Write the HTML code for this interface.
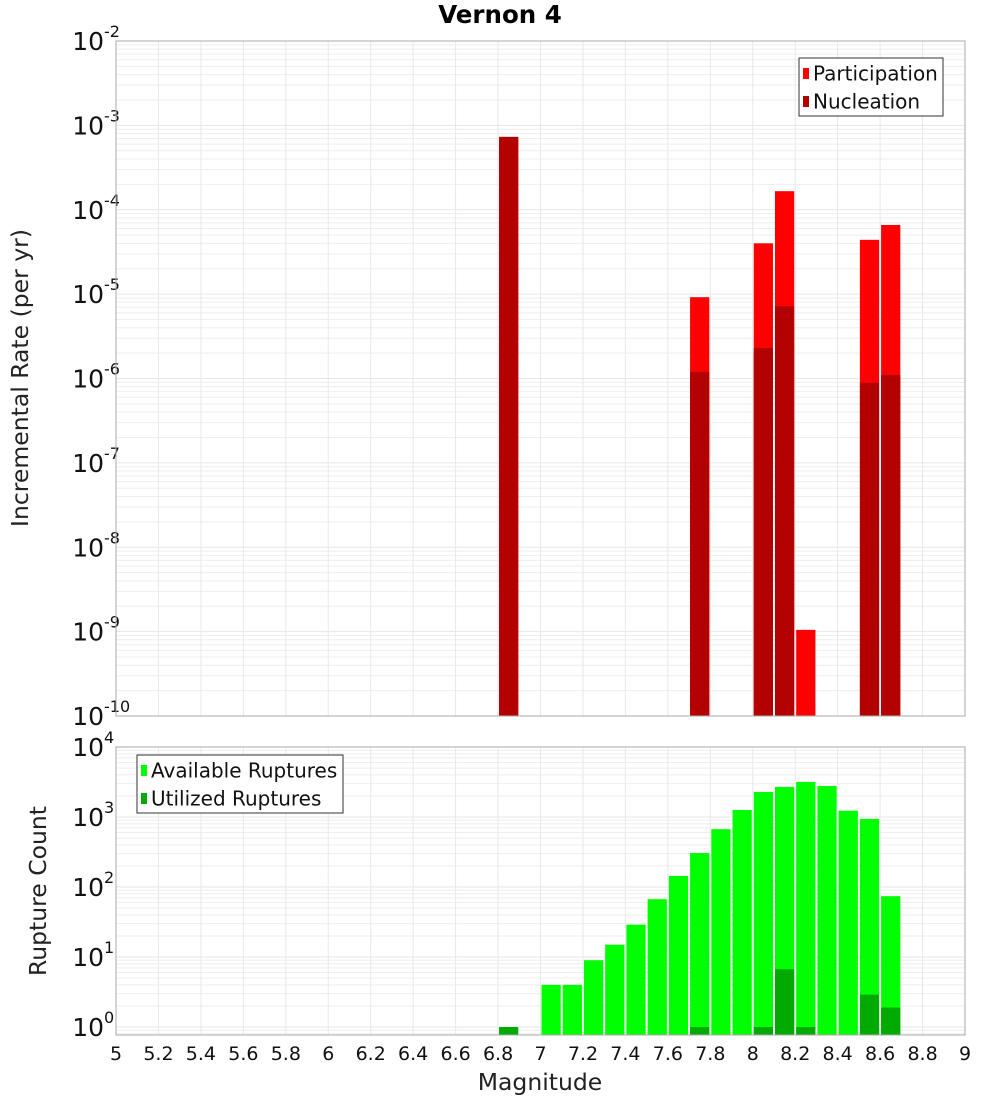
<!DOCTYPE html>
<html><head><meta charset="utf-8"><style>
body{margin:0;background:#fff;}
svg{display:block;font-family:"DejaVu Sans","Liberation Sans",sans-serif;}
</style></head><body>
<svg id="c" width="1000" height="1100" xmlns="http://www.w3.org/2000/svg">
<text x="500" y="23" text-anchor="middle" font-size="24.5" font-weight="bold">Vernon 4</text>
<text transform="translate(28,378) rotate(-90)" text-anchor="middle" font-size="23.5" fill="#222">Incremental Rate (per yr)</text>
<text transform="translate(46,891) rotate(-90)" text-anchor="middle" font-size="23.5" fill="#222">Rupture Count</text>
<text x="540" y="1090" text-anchor="middle" font-size="23.5" fill="#222">Magnitude</text>
<g id="topPanel"></g><g id="botPanel"></g>
</svg>
<script>
const mags=[6.8,7.0,7.1,7.2,7.3,7.4,7.5,7.6,7.7,7.8,7.9,8.0,8.1,8.2,8.3,8.4,8.5,8.6];
const participation=[7.3e-4,0,0,0,0,0,0,0,9.2e-6,0,0,4.0e-5,1.66e-4,1.05e-9,0,0,4.4e-5,6.6e-5];
const nucleation=[7.3e-4,0,0,0,0,0,0,0,1.2e-6,0,0,2.3e-6,7.2e-6,0,0,0,8.9e-7,1.1e-6];
const available=[0,4,4,9,15,29,67,144,306,670,1260,2280,2690,3170,2770,1230,940,74];
const utilized=[1,0,0,0,0,0,0,0,1,0,0,1,6.7,1,0,0,2.9,1.9];
const xTicks=[5,5.2,5.4,5.6,5.8,6,6.2,6.4,6.6,6.8,7,7.2,7.4,7.6,7.8,8,8.2,8.4,8.6,8.8,9];
const topExps=[-2,-3,-4,-5,-6,-7,-8,-9,-10];
const botExps=[4,3,2,1,0];
const NS="http://www.w3.org/2000/svg";
const X0=116,X1=965;
const xs=m=>X0+(m-5)/4*(X1-X0);
function el(p,t,a){const e=document.createElementNS(NS,t);for(const k in a)e.setAttribute(k,a[k]);p.appendChild(e);return e;}
function panel(g,name,y0,y1,eMax,eMin,exps){
  const ys=v=>y0+(eMax-Math.log10(v))/(eMax-eMin)*(y1-y0);
  const grid=el(g,'g',{});
  
  
  for(let e=Math.floor(eMin);e<eMax;e++)for(let k=1;k<10;k++){const y=ys(k*Math.pow(10,e));if(y<y0||y>y1)continue;
    el(grid,'line',{x1:X0,x2:X1,y1:y,y2:y,stroke:k==1?'#e6e6e6':'#eeeeee','stroke-width':1});}
  xTicks.forEach(t=>{const x=xs(t);el(grid,'line',{x1:x,x2:x,y1:y0,y2:y1,stroke:'#e8e8e8','stroke-width':1});});
  exps.forEach(e=>{const y=ys(Math.pow(10,e));
    const t=el(g,'text',{x:104,y:y+9,'text-anchor':'end','font-size':25,fill:'#111'});
    
    
    t.textContent='10';
    const s=el(g,'text',{x:104,y:y-4,'font-size':16,fill:'#111'});
    
    
    s.textContent=String(e);});
  return ys;
}
function bars(g,name,vals,color,ys,y1){
  vals.forEach((v,i)=>{if(!v)return;const m=mags[i];const x=xs(m)+1,w=xs(m+0.1)-xs(m)-2;const y=Math.min(ys(v),y1);
    const r=el(g,'rect',{x:x,y:y,width:w,height:y1-y,fill:color});
    
    });
}
const gTop=document.getElementById('topPanel'),gBot=document.getElementById('botPanel');
const ysT=panel(gTop,'rate',41,716,-2,-10,topExps);
bars(gTop,'participation',participation,'#ff0000',ysT,716);
bars(gTop,'nucleation',nucleation,'#b30000',ysT,716);
el(gTop,'rect',{x:X0,y:41,width:X1-X0,height:675,fill:'none',stroke:'#aaa'});
const ysB=panel(gBot,'count',747,1035,4,-0.114,botExps);
bars(gBot,'available',available,'#00ff00',ysB,1035);
bars(gBot,'utilized',utilized,'#00aa00',ysB,1035);
el(gBot,'rect',{x:X0,y:747,width:X1-X0,height:288,fill:'none',stroke:'#aaa'});
xTicks.forEach(t=>{const tx=el(gBot,'text',{x:xs(t),y:1060,'text-anchor':'middle','font-size':19,fill:'#111'});
  
  
  tx.textContent=String(t);});
function legend(g,name,x,y,w,items){
  const lg=el(g,'g',{});
  
  
  el(lg,'rect',{x:x,y:y,width:w,height:58,fill:'#fff',stroke:'#333'});
  items.forEach((it,i)=>{const cy=y+15+i*28;
    el(lg,'rect',{x:x+4,y:cy-5,width:6,height:11,fill:it[1]});
    const t=el(lg,'text',{x:x+14,y:cy+7.5,'font-size':20,fill:'#111'});
    
    
    t.textContent=it[0];});
}
legend(gTop,'rate-legend',799,58,144,[['Participation','#ff0000'],['Nucleation','#b30000']]);
legend(gBot,'count-legend',137,755,206,[['Available Ruptures','#00ff00'],['Utilized Ruptures','#00aa00']]);
</script>
</body></html>
